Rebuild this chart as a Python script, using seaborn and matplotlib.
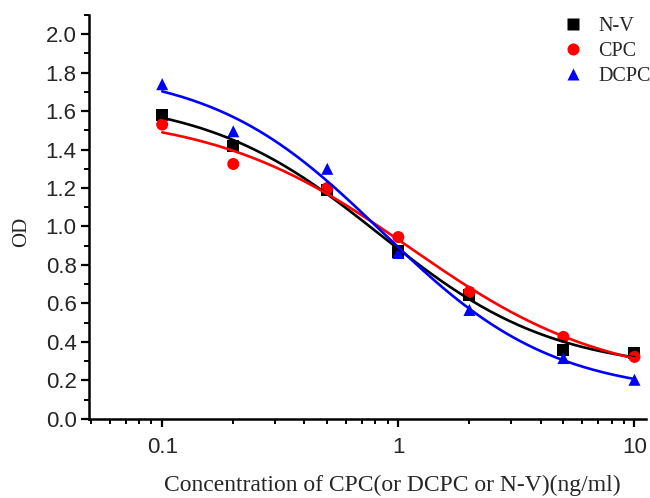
import numpy as np
import pandas as pd
import matplotlib
matplotlib.use("Agg")
import matplotlib.pyplot as plt
import seaborn as sns
from matplotlib.ticker import LogLocator, FixedLocator, MultipleLocator, NullFormatter

# ---- data ----
conc = [0.1, 0.2, 0.5, 1, 2, 5, 10]
od_nv = [1.58, 1.42, 1.19, 0.87, 0.645, 0.36, 0.343]
od_cpc = [1.53, 1.325, 1.20, 0.945, 0.66, 0.426, 0.322]
od_dcpc = [1.74, 1.495, 1.30, 0.862, 0.566, 0.316, 0.203]
series_names = ["N-V", "CPC", "DCPC"]
colors = {"N-V": "black", "CPC": "#ff0000", "DCPC": "#0000ff"}
markers = {"N-V": "s", "CPC": "o", "DCPC": "^"}

sns.set_style("ticks")
plt.rcParams["font.family"] = ["Liberation Sans", "DejaVu Sans"]

df = pd.DataFrame({
    "conc": conc * 3,
    "OD": od_nv + od_cpc + od_dcpc,
    "series": sum([[n] * len(conc) for n in series_names], []),
})


def fit_4pl(x, y):
    """Least-squares 4-parameter logistic fit (grid over x0,p; linear A1,A2)."""
    x = np.asarray(x, float)
    y = np.asarray(y, float)
    best = None
    for lx0 in np.arange(-1.5, 1.5, 0.01):
        for p in np.arange(0.3, 3.0, 0.01):
            f = 1.0 / (1.0 + (x / 10 ** lx0) ** p)
            M = np.column_stack([f, 1 - f])
            coef, *_ = np.linalg.lstsq(M, y, rcond=None)
            r = np.sum((M @ coef - y) ** 2)
            if best is None or r < best[0]:
                best = (r, coef[0], coef[1], 10 ** lx0, p)
    _, A1, A2, x0, p = best
    return lambda t: A2 + (A1 - A2) / (1 + (t / x0) ** p)


xs = np.logspace(-1, 1, 200)
curves = []
for name, vals in zip(series_names, [od_nv, od_cpc, od_dcpc]):
    f = fit_4pl(conc, vals)
    curves.append(pd.DataFrame({"conc": xs, "OD": f(xs), "series": name}))
curve_df = pd.concat(curves)

fig = plt.figure(figsize=(6.5, 4.98), dpi=100)
ax = fig.add_axes([0.137, 0.159, 0.857, 0.811])

sns.lineplot(data=curve_df, x="conc", y="OD", hue="series", palette=colors,
             hue_order=series_names, linewidth=1.9, legend=False, ax=ax)
sns.scatterplot(data=df, x="conc", y="OD", hue="series", style="series",
                palette=colors, markers=markers, hue_order=series_names,
                style_order=series_names, s=75, edgecolor="none", ax=ax,
                legend=True)

ax.set_xscale("log")
ax.set_xlim(0.049, 11.2)
ax.set_ylim(0, 2.1)
ax.xaxis.set_major_locator(FixedLocator([0.1, 1, 10]))
ax.set_xticklabels(["0.1", "1", "10"])
ax.xaxis.set_minor_locator(LogLocator(base=10, subs=np.arange(2, 10)))
ax.xaxis.set_minor_formatter(NullFormatter())
ax.yaxis.set_major_locator(MultipleLocator(0.2))
ax.yaxis.set_minor_locator(MultipleLocator(0.1))
ax.yaxis.set_major_formatter(matplotlib.ticker.FormatStrFormatter("%.1f"))

for s in ["top", "right"]:
    ax.spines[s].set_visible(False)
for s in ["left", "bottom"]:
    ax.spines[s].set_linewidth(1.8)
    ax.spines[s].set_color("black")
ax.tick_params(which="major", length=6, width=1.6, labelsize=16, direction="out", color="black")
ax.tick_params(which="minor", length=3.5, width=1.4, direction="out", color="black")
ax.tick_params(axis="x", pad=7)
ax.tick_params(axis="y", pad=3)

ax.set_xlabel("Concentration of CPC(or DCPC or N-V)(ng/ml)",
              fontfamily="Liberation Serif", fontsize=17)
ax.xaxis.set_label_coords(0.544, -0.138)
ax.set_ylabel("OD", fontfamily="Liberation Serif", fontsize=15)
ax.yaxis.set_label_coords(-0.104, 0.463)

leg = ax.legend(loc="upper left", bbox_to_anchor=(0.854, 0.983),
                bbox_transform=fig.transFigure, frameon=False,
                prop={"family": "Liberation Serif", "size": 14.5},
                handlelength=1.0, handletextpad=0.75, labelspacing=0.3,
                borderaxespad=0, markerscale=1.0)
for h in leg.legend_handles:
    try:
        h.set_markeredgecolor("none")
    except AttributeError:
        pass

fig.savefig("out.png", dpi=100)
